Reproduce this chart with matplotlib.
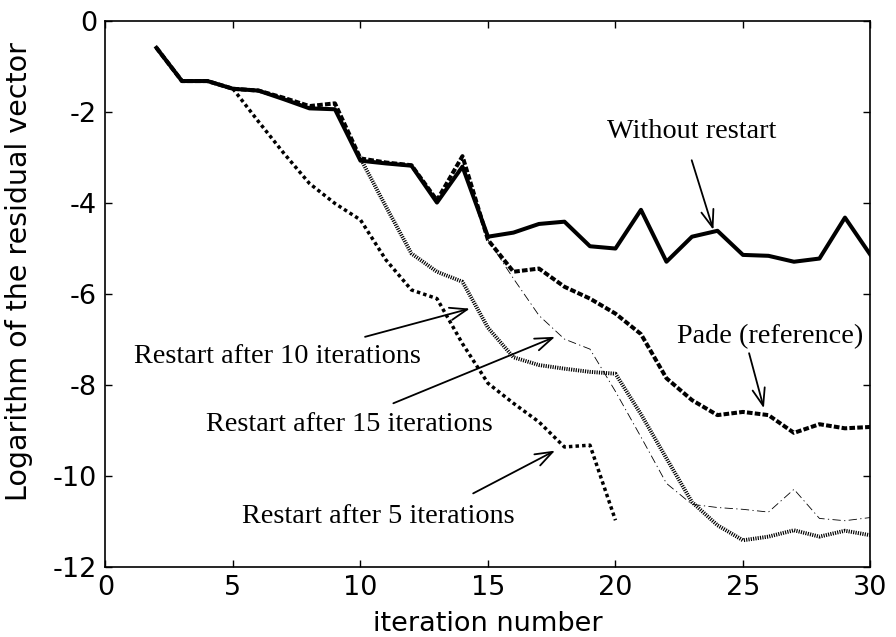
import matplotlib
matplotlib.use("Agg")
import matplotlib.pyplot as plt

plt.rcParams["axes.unicode_minus"] = False

# ---- data ----
it_full = list(range(2, 31))
without_restart = [-0.60, -1.33, -1.33, -1.50, -1.54, -1.73, -1.93, -1.95, -3.08, -3.14,
                   -3.19, -4.00, -3.21, -4.75, -4.66, -4.47, -4.42, -4.96, -5.01, -4.16,
                   -5.30, -4.75, -4.62, -5.15, -5.17, -5.30, -5.23, -4.33, -5.15]
pade_reference = [-0.60, -1.33, -1.33, -1.50, -1.54, -1.70, -1.88, -1.82, -3.03, -3.12,
                  -3.18, -3.95, -2.98, -4.82, -5.52, -5.45, -5.85, -6.11, -6.44, -6.89,
                  -7.86, -8.34, -8.67, -8.60, -8.67, -9.06, -8.87, -8.96, -8.93]

it_r5 = list(range(5, 21))
restart5 = [-1.50, -2.22, -2.92, -3.58, -4.02, -4.38, -5.26, -5.92, -6.11, -7.10,
            -7.97, -8.41, -8.82, -9.37, -9.33, -10.98]

it_r10 = list(range(10, 31))
restart10 = [-3.03, -4.09, -5.12, -5.52, -5.74, -6.75, -7.40, -7.57, -7.65, -7.72,
             -7.76, -8.65, -9.62, -10.58, -11.09, -11.42, -11.34, -11.20, -11.34, -11.21,
             -11.31]

it_r15 = list(range(15, 31))
restart15 = [-4.82, -5.67, -6.48, -7.00, -7.22, -8.15, -9.15, -10.17, -10.63, -10.70,
             -10.74, -10.80, -10.30, -10.94, -10.99, -10.92]

x_ticks = [0, 5, 10, 15, 20, 25, 30]
y_ticks = [0, -2, -4, -6, -8, -10, -12]

# ---- figure ----
fig = plt.figure(figsize=(8.96, 6.37), dpi=100)
ax = fig.add_axes([0.1177, 0.1104, 0.8538, 0.8574])

ax.plot(it_r15, restart15, color="black", lw=0.6, linestyle=(0, (10, 4, 1.5, 4)))
ax.plot(it_r10, restart10, color="black", lw=2.8, linestyle=(0, (0.3, 0.3)))
ax.plot(it_r5, restart5, color="black", lw=2.5, linestyle=(0, (1.0, 0.9)))
ax.plot(it_full, pade_reference, color="black", lw=2.9, linestyle=(0, (1.4, 0.55)))
ax.plot(it_full, without_restart, color="black", lw=2.9, linestyle="-")

ax.set_xlim(0, 30)
ax.set_ylim(-12, 0)
ax.set_xticks(x_ticks)
ax.set_yticks(y_ticks)
ax.tick_params(direction="in", length=5, width=1, top=True, right=True,
               labelsize=19.5, pad=6)
for lab in ax.get_xticklabels() + ax.get_yticklabels():
    lab.set_fontfamily("DejaVu Sans")
for s in ax.spines.values():
    s.set_linewidth(1.2)

ax.set_xlabel("iteration number", fontsize=19.5, family="DejaVu Sans", labelpad=7)
ax.set_ylabel("Logarithm of the residual vector", fontsize=20.5, family="DejaVu Sans")
ax.yaxis.set_label_coords(-0.095, 0.54)

serif = "Liberation Serif"
fs = 20.3
arrow = dict(arrowstyle="->,head_length=1.25,head_width=0.45", color="black", lw=1.3,
             shrinkA=0, shrinkB=0)

ax.text(22.99, -2.59, "Without restart", family=serif, fontsize=fs, ha="center", va="baseline")
ax.annotate("", xy=(23.84, -4.60), xytext=(22.99, -3.07), arrowprops=arrow)

ax.text(26.06, -7.09, "Pade (reference)", family=serif, fontsize=fs, ha="center", va="baseline")
ax.annotate("", xy=(25.82, -8.52), xytext=(25.24, -7.31), arrowprops=arrow)

ax.text(6.75, -7.53, "Restart after 10 iterations", family=serif, fontsize=fs, ha="center", va="baseline")
ax.annotate("", xy=(14.29, -6.33), xytext=(10.18, -6.95), arrowprops=arrow)

ax.text(9.55, -9.02, "Restart after 15 iterations", family=serif, fontsize=fs, ha="center", va="baseline")
ax.annotate("", xy=(17.63, -6.95), xytext=(11.29, -8.41), arrowprops=arrow)

ax.text(10.70, -11.05, "Restart after 5 iterations", family=serif, fontsize=fs, ha="center", va="baseline")
ax.annotate("", xy=(17.63, -9.45), xytext=(14.42, -10.39), arrowprops=arrow)

fig.savefig("out.png", dpi=100)
